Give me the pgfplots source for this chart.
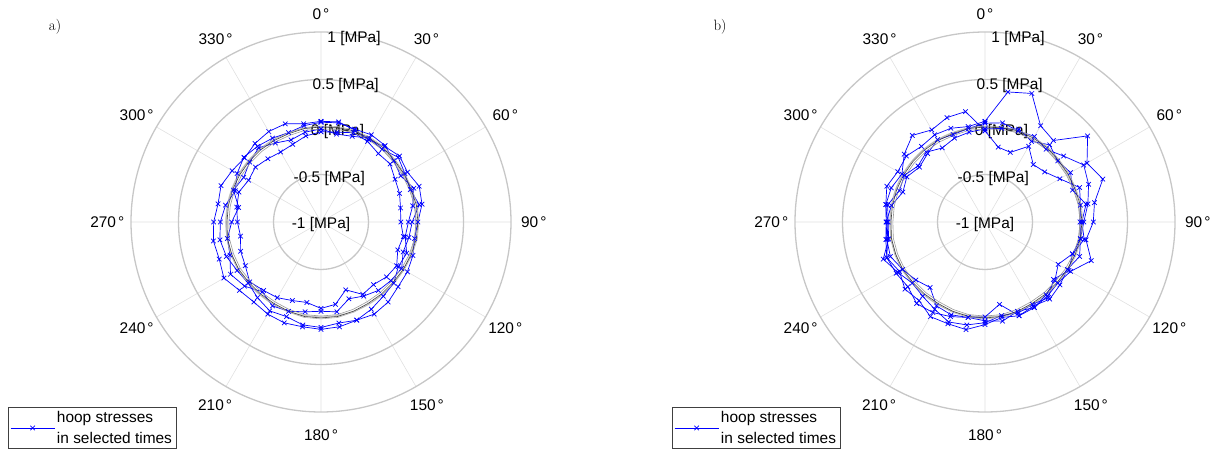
\documentclass[border=0pt]{standalone}
\usepackage{fontspec}
\usepackage{pgfplots}
\usepackage{pgfplotstable}
\pgfplotsset{compat=1.18}
\usepgfplotslibrary{polar}
\newfontfamily\hv{Liberation Sans}
\newcommand\tfont{\hv\fontsize{15.5}{21}\selectfont}

\pgfplotstableread{
t   a1    a2    a3    a4    g1    g2    g3
0   0.06 -0.05  0.05 -0.02  0.00 -0.02 0.01
10  0.07 -0.04  0.06 -0.06  0.01 -0.01 0.02
20  0.03  0.00  0.04 -0.04  0.02  0.00 0.03
30  0.00 -0.02  0.06  0.02  0.02  0.00 0.03
40  0.04 -0.06  0.05  0.00  0.02  0.00 0.03
50  0.08 -0.05  0.00  0.06  0.01 -0.01 0.02
60  0.05 -0.10 -0.03  0.02  0.01 -0.01 0.02
70  0.10 -0.12  0.04  0.00  0.01 -0.01 0.02
80  0.08 -0.15 -0.02  0.05  0.02  0.00 0.03
90  0.02 -0.16 -0.08 -0.04  0.02  0.00 0.03
100 0.00 -0.12 -0.10 -0.06  0.02  0.00 0.03
110 0.03 -0.14 -0.04 -0.08  0.01 -0.01 0.02
120 0.05 -0.08 -0.06 -0.02  0.00 -0.02 0.01
130 0.06 -0.10  0.00 -0.04 -0.01 -0.03 0.00
140 0.10 -0.14  0.02 -0.06 -0.01 -0.03 0.00
150 0.12 -0.12  0.06 -0.10 -0.01 -0.03 0.00
160 0.10 -0.24  0.10 -0.14  0.00 -0.02 0.01
170 0.12 -0.12  0.08 -0.04  0.01 -0.01 0.02
180 0.13 -0.09  0.11 -0.06  0.01 -0.01 0.02
190 0.12 -0.14  0.10 -0.04  0.01 -0.01 0.02
200 0.13 -0.12  0.06  0.00  0.00 -0.02 0.01
210 0.12 -0.08  0.08  0.02 -0.01 -0.03 0.00
220 0.10 -0.06  0.04 -0.04 -0.01 -0.03 0.00
230 0.12 -0.02  0.00  0.05 -0.01 -0.03 0.00
240 0.18 -0.08  0.02  0.10  0.00 -0.02 0.01
250 0.14 -0.10  0.06  0.02  0.00 -0.02 0.01
260 0.15 -0.14  0.08  0.00  0.00 -0.02 0.01
270 0.13 -0.12  0.06 -0.06 -0.01 -0.03 0.00
280 0.10 -0.10  0.02 -0.12 -0.01 -0.03 0.00
290 0.12 -0.08 -0.04 -0.02 -0.01 -0.03 0.00
300 0.08 -0.12  0.02 -0.06 -0.01 -0.03 0.00
310 0.05 -0.10  0.06 -0.02 -0.01 -0.03 0.00
320 0.08 -0.13  0.04  0.02 -0.01 -0.03 0.00
330 0.10 -0.15  0.02 -0.04 -0.01 -0.03 0.00
340 0.10 -0.13  0.00 -0.08 -0.01 -0.03 0.00
350 0.05 -0.08  0.03 -0.04  0.00 -0.02 0.01
360 0.06 -0.05  0.05 -0.02  0.00 -0.02 0.01
}\tabA

\pgfplotstableread{
t   b1    b2    b3    b4
0   0.06 -0.04  0.04 -0.02
10  0.39 -0.20  0.06  0.00
20  0.44 -0.22  0.02  0.04
30  0.17 -0.08  0.04 -0.02
40  0.12 -0.21  0.00  0.06
50  0.41 -0.18  0.08  0.00
60  0.24 -0.09  0.20  0.04
70  0.32  0.06  0.16 -0.02
80  0.17  0.02  0.10  0.08
90  0.14  0.00  0.04  0.02
100 0.08  0.02  0.02  0.06
110 0.19 -0.02  0.06 -0.02
120 0.04 -0.11  0.00  0.02
130 0.00 -0.04  0.03 -0.06
140 0.02  0.00  0.06  0.04
150 0.04  0.04  0.02  0.00
160 0.00  0.05  0.05  0.02
170 0.06 -0.12  0.02  0.00
180 0.04  0.00  0.08  0.06
190 0.02  0.02  0.15  0.10
200 0.06  0.04  0.14  0.12
210 0.10  0.02  0.15  0.06
220 0.12 -0.10  0.08  0.02
230 0.06 -0.05  0.10  0.00
240 0.08  0.00  0.04  0.06
250 0.10  0.06  0.10  0.14
260 0.04  0.05  0.06  0.03
270 0.03  0.04  0.04  0.02
280 0.06  0.06  0.00  0.04
290 0.10  0.05 -0.08 -0.04
300 0.06  0.01 -0.05 -0.02
310 0.08  0.11 -0.10 -0.08
320 0.04  0.19 -0.06 -0.04
330 0.06  0.12  0.00 -0.10
340 0.05  0.17 -0.02 -0.06
350 0.02  0.18  0.00 -0.04
360 0.06 -0.04  0.04 -0.02
}\tabB

\newcommand\dg{\kern2bp°}
\newcommand\anglelabels{%
  \node[font=\tfont] at (axis cs:90,2.19)  {0\dg};
  \node[font=\tfont] at (axis cs:60,2.22)  {30\dg};
  \node[font=\tfont] at (axis cs:30,2.24)  {60\dg};
  \node[font=\tfont] at (axis cs:0,2.24)   {90\dg};
  \node[font=\tfont] at (axis cs:-30,2.24) {120\dg};
  \node[font=\tfont] at (axis cs:-60,2.23) {150\dg};
  \node[font=\tfont] at (axis cs:-90,2.24) {180\dg};
  \node[font=\tfont] at (axis cs:-120,2.23) {210\dg};
  \node[font=\tfont] at (axis cs:-150,2.24) {240\dg};
  \node[font=\tfont] at (axis cs:-180,2.25) {270\dg};
  \node[font=\tfont] at (axis cs:-210,2.24) {300\dg};
  \node[font=\tfont] at (axis cs:-240,2.22) {330\dg};
  \node[font=\tfont, yshift=-2.5bp] at (axis cs:80,0) {-1 [MPa]};
  \node[font=\tfont, yshift=-3.5bp] at (axis cs:80,0.5) {-0.5 [MPa]};
  \node[font=\tfont, yshift=-3.5bp] at (axis cs:80,1) {0 [MPa]};
  \node[font=\tfont, yshift=-3.5bp] at (axis cs:80,1.5) {0.5 [MPa]};
  \node[font=\tfont, yshift=-3.5bp] at (axis cs:80,2) {1 [MPa]};
}

\pgfplotsset{
  hoop/.style={blue, line width=0.7bp, mark=x, mark size=3.2bp, mark options={solid, line width=0.7bp}},
  gr/.style={line width=0.6bp, no marks, forget plot},
  mypolar/.style={
    scale only axis, width=380bp, height=380bp, anchor=center,
    xmin=0, xmax=360, ymin=0, ymax=2, clip=false,
    xtick={0,30,...,330}, xticklabels={},
    ytick={0.5,1,1.5,2}, yticklabels={},
    grid=major,
    x grid style={black!12, line width=0.6bp},
    y grid style={black!22, line width=1.3bp},
    axis line style={draw=none},
    major tick length=0pt,
    x filter/.expression={90-x},
    y filter/.expression={y+1},
    legend cell align=left,
    legend style={at={(-0.3237,-0.0974)}, anchor=south west, draw=black!75, line width=0.6bp,
      font=\tfont, inner sep=2bp},
    legend image code/.code={\path (0bp,-15.5bp); \draw[mark repeat=2,mark phase=2,##1] plot coordinates {(0bp,0bp) (22bp,0bp) (44bp,0bp)};},
  }
}
\newcommand\legtext{\vbox{\hbox{hoop stresses}\hbox{in selected times}}}

\begin{document}
\begin{tikzpicture}
\begin{polaraxis}[mypolar, at={(321bp,231bp)}]
  \anglelabels
  \addplot[hoop] table[x=t,y=a1] {\tabA};
  \addlegendentry{\legtext}
  \addplot[hoop, forget plot] table[x=t,y=a2] {\tabA};
  \addplot[hoop, forget plot] table[x=t,y=a3] {\tabA};
  \addplot[hoop, forget plot] table[x=t,y=a4] {\tabA};
  \addplot[gr, black!40] table[x=t,y=g2] {\tabA};
  \addplot[gr, black!75] table[x=t,y=g1] {\tabA};
  \addplot[gr, black!30] table[x=t,y=g3] {\tabA};
\end{polaraxis}
\begin{polaraxis}[mypolar, at={(985bp,231bp)}]
  \anglelabels
  \addplot[hoop] table[x=t,y=b1] {\tabB};
  \addlegendentry{\legtext}
  \addplot[hoop, forget plot] table[x=t,y=b2] {\tabB};
  \addplot[hoop, forget plot] table[x=t,y=b3] {\tabB};
  \addplot[hoop, forget plot] table[x=t,y=b4] {\tabB};
  \addplot[gr, black!40] table[x=t,y=g2] {\tabA};
  \addplot[gr, black!75] table[x=t,y=g1] {\tabA};
  \addplot[gr, black!30] table[x=t,y=g3] {\tabA};
\end{polaraxis}
\node[font=\fontsize{15}{17}\selectfont] at (55bp,426bp) {a)};
\node[font=\fontsize{15}{17}\selectfont] at (720bp,426bp) {b)};
\pgfresetboundingbox
\path[use as bounding box] (0,0) rectangle (1217bp,453bp);
\end{tikzpicture}
\end{document}
